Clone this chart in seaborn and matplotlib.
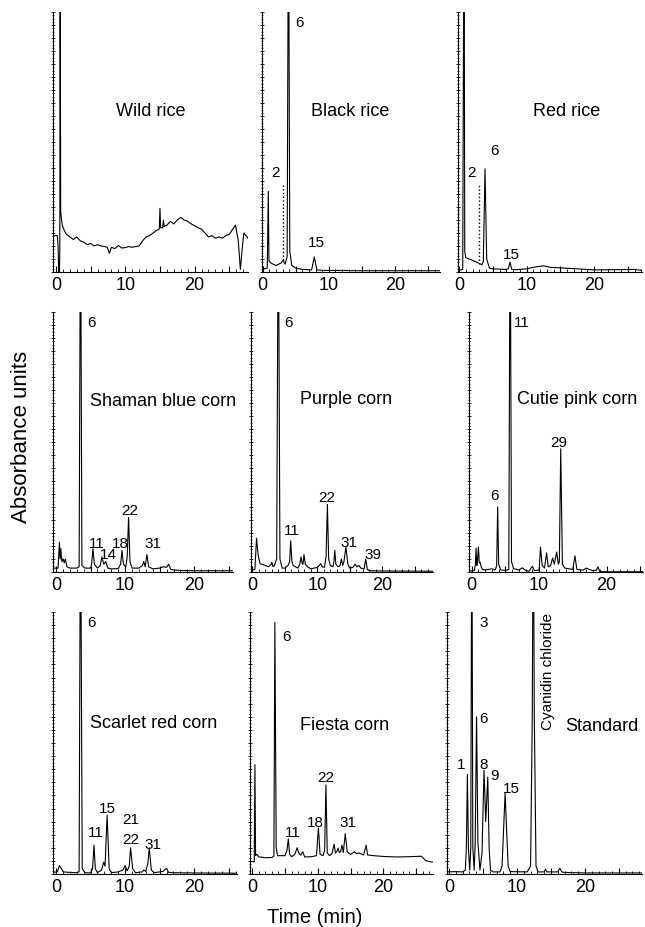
import matplotlib
matplotlib.use("Agg")
import matplotlib.pyplot as plt
from matplotlib.ticker import MultipleLocator, FuncFormatter
import seaborn as sns

sns.set_style("ticks")
plt.rcParams['font.family'] = ['Liberation Sans', 'DejaVu Sans']
plt.rcParams.update({"text.color": "black", "axes.edgecolor": "black",
                     "xtick.color": "black", "ytick.color": "black",
                     "axes.labelcolor": "black"})

# --- chromatogram traces: time (min), absorbance (relative, 100 = top of panel)
wild_t = [-0.43, 0.2, 0.3, 0.4, 0.5, 0.55, 0.6, 0.68, 0.9, 1.2, 1.5, 2.0, 2.5, 3.0, 3.5, 4.0, 4.5,
          5.0, 5.5, 6.0, 6.5, 7.0, 7.4, 7.7, 8.0, 8.5, 9.0, 9.5, 10.0, 10.5, 11.0, 11.5, 12.0, 12.5,
          13.0, 13.5, 14.0, 14.5, 14.9, 15.0, 15.1, 15.4, 15.5, 15.6, 16.0, 16.5, 17.0, 17.5, 18.0,
          18.5, 19.0, 19.5, 20.0, 20.5, 21.0, 21.5, 22.0, 22.5, 23.0, 23.5, 24.0, 24.5, 25.0, 25.5,
          25.9, 26.3, 26.6, 26.9, 27.1, 27.4, 27.7]
wild_y = [14, 14, 10, 0, 0, 8, 130, 23, 18, 16, 14.5, 13.5, 12.5, 13.5, 12, 11.5, 10.5,
          11, 10, 10.5, 10, 9.8, 9.5, 7.2, 9.5, 9, 10.2, 9.2, 9.4, 9.8, 9.5, 9.8, 10, 12,
          13.5, 14, 15, 16, 16.5, 24.5, 17, 17, 20, 17.5, 18, 19.5, 18.5, 20, 21,
          20, 19.5, 18.5, 17.8, 17, 16.5, 15, 13.5, 14, 13, 13.5, 13, 14, 14.5, 16.5,
          18, 12, 1, 10, 15, 14, 13]

black_t = [-0.1, 0.7, 0.85, 0.95, 1.2, 2.0, 2.8, 3.1, 3.4, 3.7, 3.9, 4.1, 4.4, 5.0, 6.0,
           7.4, 7.8, 8.2, 9.0, 12.0, 15.0, 20.0, 26.8]
black_y = [1.0, 1.5, 31, 4.5, 3.5, 2.5, 3.5, 4.5, 3.0, 6, 150, 8, 2.5, 1.5, 1.0,
           0.8, 5.8, 0.8, 0.6, 0.6, 0.5, 0.5, 0.5]

red_t = [-0.15, 0.55, 0.74, 0.85, 1.0, 2.0, 3.0, 3.4, 3.6, 3.85, 4.1, 4.5, 5.0, 7.0, 7.3,
         7.55, 7.8, 8.5, 10.0, 11.0, 12.5, 13.5, 15.0, 17.0, 20.0, 23.0, 26.0, 27.1]
red_y = [0.5, 1, 150, 8, 5.5, 4.5, 3.3, 2.8, 4, 39.7, 5, 1.5, 1.2, 1.0, 1.2,
         3.8, 1.0, 0.9, 1.2, 1.8, 2.4, 1.8, 1.6, 1.3, 0.8, 0.9, 1.0, 0.6]

shaman_t = [-0.43, 0.3, 0.5, 0.6, 0.7, 0.85, 1.05, 1.2, 1.35, 1.6, 2.0, 3.0, 3.35, 3.55,
            3.75, 4.2, 5.0, 5.15, 5.35, 5.55, 6.0, 6.4, 6.65, 6.9, 7.2, 7.5, 8.0, 9.0, 9.35,
            9.55, 9.75, 10.1, 10.3, 10.5, 10.7, 11.0, 12.0, 12.5, 12.7, 12.9, 13.15, 13.4,
            14.0, 15.0, 15.5, 16.0, 16.3, 16.6, 17.0, 18.0, 20.0, 25.6]
shaman_y = [1.5, 1.5, 11.5, 5, 9, 4, 5, 3.5, 5, 2, 1.5, 1.5, 2.0, 150,
            2.5, 1.5, 1.5, 3, 9, 3, 1.5, 2.5, 5.8, 3, 4, 1.5, 1.2, 1.3, 3,
            8.3, 3, 2, 6, 21, 4, 1.5, 1.5, 2.5, 4, 2, 6.7, 2,
            1.2, 1.5, 2, 1.8, 3, 1, 0.8, 0.6, 0.5, 0.5]

purple_t = [-0.2, 0.4, 0.65, 0.9, 1.2, 2.0, 2.5, 2.9, 3.0, 3.2, 3.4, 3.75, 4.0, 4.25, 4.6,
            5.0, 5.5, 5.75, 5.9, 6.1, 6.3, 7.0, 7.3, 7.5, 7.7, 7.8, 7.95, 8.15, 8.5, 9.0,
            10.0, 10.3, 10.5, 10.8, 11.1, 11.35, 11.55, 11.75, 12.0, 12.4, 12.55, 12.7, 12.85,
            13.2, 13.5, 13.7, 13.9, 14.1, 14.4, 14.7, 15.0, 15.5, 15.8, 16.1, 16.4, 16.7,
            17.2, 17.45, 17.7, 18.0, 20.0, 27.8]
purple_y = [0.5, 1.0, 13, 6.5, 3.2, 2.5, 2.0, 3.0, 3.8, 2.0, 2.5, 5, 150, 5, 1.5,
            1.5, 2.5, 4, 12, 4, 2.5, 1.5, 3, 5.8, 3, 3, 6.7, 3, 2, 1.2,
            1.8, 2.5, 3.2, 2, 1.8, 6, 26, 5, 2.5, 2.0, 4, 8.3, 3,
            2, 2.5, 5, 2.5, 4, 9.6, 3, 1.5, 1.8, 3, 2, 2.5, 1.5,
            1.2, 5, 1, 0.5, 0.4, 0.3]

pink_t = [-0.4, 0.4, 0.55, 0.65, 0.75, 0.85, 1.0, 1.12, 1.25, 1.4, 1.6, 2.0, 3.0, 3.5, 3.7,
          3.85, 4.0, 4.3, 5.0, 5.5, 5.7, 5.9, 6.2, 7.0, 7.5, 8.0, 8.5, 9.0, 9.3, 10.0, 10.2,
          10.45, 10.8, 11.1, 11.35, 11.7, 12.0, 12.25, 12.6, 12.85, 13.0, 13.2, 13.45, 13.8,
          14.5, 15.0, 15.3, 15.6, 16.5, 17.0, 17.4, 18.0, 18.5, 18.7, 19.0, 20.0, 25.4]
pink_y = [0.3, 0.6, 3, 9.2, 2.5, 4, 9.6, 3.5, 3.8, 2, 1.0, 0.8, 1.2, 0.8, 2.5,
          25, 3, 0.8, 0.6, 1.0, 150, 4, 1.3, 0.8, 1.6, 0.6, 0.3, 2.2, 0.5, 0.8, 9.6,
          2.5, 1.5, 7.4, 2, 2.5, 5.4, 3, 7.7, 3, 4, 47.4, 3, 1.5,
          1.2, 1.0, 6.2, 1.0, 0.7, 1.5, 1.0, 0.5, 0.7, 2.0, 0.2, 0.1, 0.1]

scarlet_t = [-0.43, 0.2, 0.5, 0.8, 1.05, 2.0, 3.0, 3.35, 3.55, 3.8, 4.2, 5.0, 5.3, 5.5, 5.7,
             6.0, 6.6, 6.9, 7.1, 7.4, 7.7, 8.0, 9.0, 9.7, 10.0, 10.3, 10.6, 10.8, 11.1, 11.5,
             12.5, 12.7, 13.0, 13.3, 13.5, 13.8, 14.2, 15.0, 15.5, 16.0, 16.3, 17.0, 20.0, 26.2]
scarlet_y = [0.6, 0.8, 3.2, 2, 0.8, 0.6, 0.5, 0.8, 150, 2, 0.5, 0.4, 2, 11, 2,
             0.5, 1.5, 4.5, 3, 22.4, 2, 0.5, 0.8, 1.5, 3.2, 1.2, 3, 10, 2, 0.5,
             0.8, 1.5, 1, 4, 10, 1.5, 0.5, 0.8, 1.0, 2.2, 0.6, 0.5, 0.4, 0.3]

fiesta_t = [-0.35, 0.3, 0.4, 0.5, 0.7, 1.0, 1.5, 2.0, 3.0, 3.3, 3.45, 3.65, 3.85, 4.5, 5.0,
            5.3, 5.5, 5.7, 6.0, 6.5, 6.85, 7.1, 7.4, 7.7, 8.0, 9.0, 9.8, 10.1, 10.35, 10.8,
            11.05, 11.25, 11.45, 11.8, 12.2, 12.5, 12.7, 12.9, 13.1, 13.3, 13.5, 13.7, 13.9,
            14.2, 14.5, 15.0, 15.6, 15.9, 16.3, 17.0, 17.4, 17.6, 18.5, 20.0, 22.0, 24.0,
            25.0, 25.8, 26.5, 27.3, 27.6]
fiesta_y = [4.7, 4.7, 41.7, 7, 7.5, 6.5, 6.4, 6.2, 6.3, 6.8, 96, 10, 7, 7, 7,
            9, 13.4, 7.5, 6.6, 7.5, 10, 8, 7.2, 8.5, 6.5, 6.6, 7, 17.6, 7.5, 7,
            9, 34, 8, 7, 8, 11.4, 8, 8.5, 9.9, 8.2, 8.5, 11, 8.2,
            15.4, 8.5, 7.5, 8.5, 7.8, 8, 7.3, 11, 7.3, 7, 6.7, 6.5, 6.6,
            6.7, 6.8, 5.1, 4.6, 4.6]

standard_t = [-0.3, 1.0, 2.0, 2.4, 2.55, 2.7, 2.85, 3.05, 3.2, 3.35, 3.5, 3.7, 3.85, 4.05,
              4.25, 4.55, 4.85, 5.15, 5.4, 5.7, 5.9, 6.1, 6.5, 7.5, 7.8, 8.0, 8.25, 8.5, 8.7,
              9.0, 11.5, 12.0, 12.25, 12.4, 12.55, 12.8, 13.1, 14.0, 14.2, 14.4, 16.0, 16.3,
              16.6, 17.0, 20.0, 28.4]
standard_y = [0.8, 0.9, 0.8, 1.5, 10, 38, 10, 1.5, 10, 150, 10, 1.5, 12, 60,
              12, 1.5, 8, 39.6, 20, 37, 10, 1.5, 0.8, 0.8, 3, 15, 31, 15, 3,
              0.9, 0.8, 3, 60, 150, 60, 3, 0.8, 0.8, 1.8, 0.8, 0.8, 2.2,
              0.8, 0.6, 0.4, 0.4]

# --- dotted marker lines (black rice, red rice): time, bottom, top
black_mark = (3.1, 4.5, 34)
red_mark = (3.0, 3.0, 34)

# --- panel names and peak labels
names = ["Wild rice", "Black rice", "Red rice",
         "Shaman blue corn", "Purple corn", "Cutie pink corn",
         "Scarlet red corn", "Fiesta corn", "Standard"]
name_pos = [(13.6, 62), (13.2, 62), (16.0, 62),
            (4.9, 66), (14.5, 66.7), (6.7, 66.7),
            (4.9, 57.7), (14.15, 57), (22.5, 56.5)]
name_ha = ["center", "center", "center", "left", "center", "left", "left", "center", "center"]

peak_labels = [
    [],
    [("2", 2.0, 38.5), ("6", 5.6, 96), ("15", 8.1, 11.5)],
    [("2", 1.9, 38.5), ("6", 5.3, 47), ("15", 7.8, 7)],
    [("6", 5.15, 96), ("11", 5.9, 11), ("14", 7.6, 7), ("18", 9.35, 11), ("22", 10.7, 23.7),
     ("31", 14.0, 11)],
    [("6", 5.5, 96), ("11", 6.05, 16), ("22", 11.4, 28.8), ("31", 14.8, 11.5), ("39", 18.5, 7)],
    [("6", 3.45, 29.5), ("11", 7.4, 96), ("29", 12.85, 50)],
    [("6", 5.15, 96), ("11", 5.8, 16), ("15", 7.4, 25), ("21", 10.8, 21), ("22", 10.8, 13.5),
     ("31", 14.0, 11.5)],
    [("6", 5.25, 91), ("11", 6.15, 16), ("18", 9.6, 20), ("22", 11.25, 37), ("31", 14.65, 20)],
    [("1", 1.75, 42), ("3", 5.05, 96), ("6", 5.05, 59.7), ("8", 5.05, 42), ("9", 6.75, 37.6),
     ("15", 9.2, 33)],
]

traces = [(wild_t, wild_y), (black_t, black_y), (red_t, red_y),
          (shaman_t, shaman_y), (purple_t, purple_y), (pink_t, pink_y),
          (scarlet_t, scarlet_y), (fiesta_t, fiesta_y), (standard_t, standard_y)]
marks = [None, black_mark, red_mark, None, None, None, None, None, None]

# --- layout (pixels: left, right, top, bottom) and x limits of each panel
W, H = 645, 928
boxes = [(53, 248, 13, 273), (262, 440, 13, 273), (458, 642, 13, 273),
         (53, 233, 313, 573), (251, 433, 313, 573), (469, 643, 313, 573),
         (53, 237, 613, 875), (250, 433, 613, 875), (447, 642, 613, 875)]
xlims = [(-0.43, 27.7), (-0.1, 26.8), (-0.15, 27.1),
         (-0.43, 25.6), (-0.2, 27.8), (-0.4, 25.4),
         (-0.43, 26.2), (-0.35, 27.6), (-0.3, 28.4)]

fig = plt.figure(figsize=(W / 100, H / 100), dpi=100)

for i in range(9):
    l, r, t, b = boxes[i]
    ax = fig.add_axes([l / W, 1 - b / H, (r - l) / W, (b - t) / H])
    tx, ty = traces[i]
    sns.lineplot(x=tx, y=ty, ax=ax, color="black", lw=0.8, sort=False, estimator=None)
    if marks[i] is not None:
        mt, mb, mtop = marks[i]
        ax.vlines(mt, mb, mtop, colors="black", linestyles=":", lw=1.0)
    ax.set_xlim(*xlims[i])
    ax.set_ylim(0, 100)
    ax.set_xlabel("")
    ax.set_ylabel("")
    sns.despine(ax=ax)
    for s in ["left", "bottom"]:
        ax.spines[s].set_linewidth(0.8)
        ax.spines[s].set_color("black")

    ax.xaxis.set_major_locator(MultipleLocator(5))
    ax.xaxis.set_minor_locator(MultipleLocator(1))
    ax.xaxis.set_major_formatter(FuncFormatter(lambda v, p: f"{v:.0f}" if v % 10 == 0 else ""))
    ax.tick_params(axis="x", which="major", direction="in", length=4, width=0.8,
                   labelsize=13, pad=3, colors="black")
    ax.tick_params(axis="x", which="minor", direction="in", length=2, width=0.6, colors="black")
    ax.yaxis.set_major_locator(MultipleLocator(5))
    ax.yaxis.set_minor_locator(MultipleLocator(1.25))
    ax.tick_params(axis="y", which="major", direction="inout", length=3, width=0.6,
                   labelleft=False, colors="black")
    ax.tick_params(axis="y", which="minor", direction="inout", length=1.5, width=0.5,
                   colors="black")

    nx, ny = name_pos[i]
    ax.text(nx, ny, names[i], ha=name_ha[i], va="center", fontsize=13, color="black",
            clip_on=False)
    for lab, px, py in peak_labels[i]:
        ax.text(px, py, lab, ha="center", va="center", fontsize=11, color="black", clip_on=False)

    if i == 8:
        ax.text(14.6, 100, "Cyanidin chloride", rotation=90, ha="center", va="top",
                fontsize=11, color="black")

fig.text(22 / W, 1 - 437 / H, "Absorbance units", rotation=90, ha="center", va="center",
         fontsize=16, color="black")
fig.text(315 / W, 1 - 918 / H, "Time (min)", ha="center", va="center", fontsize=14.5,
         color="black")

fig.savefig("out.png", dpi=100)
